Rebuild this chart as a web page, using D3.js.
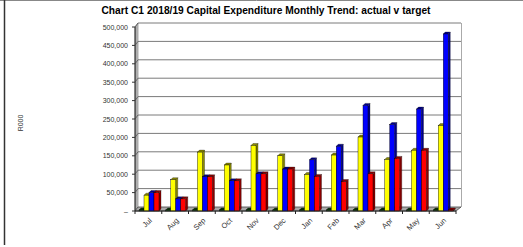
<!DOCTYPE html>
<html lang="en">
<head>
    <meta charset="UTF-8">
    <title>Chart C1 Capital Expenditure</title>
    <script src="https://cdn.jsdelivr.net/npm/d3@7/dist/d3.min.js"></script>
    <style>
        body { margin: 0; background: #fff; }
        text { font-family: Arial, "Liberation Sans", sans-serif; }
    </style>
</head>
<body>
<script type="application/javascript">
    const months = ['Jul', 'Aug', 'Sep', 'Oct', 'Nov', 'Dec', 'Jan', 'Feb', 'Mar', 'Apr', 'May', 'Jun'];
    const seriesNames = ['other', 'target', 'actual', 'spent'];
    const otherValues = [0, 0, 0, 0, 0, 0, 0, 0, 0, 0, 0, 0];
    const yellowValues = [43000, 85000, 160000, 125000, 178000, 150000, 99000, 152000, 201000, 140000, 165000, 232000];
    const blueValues = [50000, 33000, 93000, 82000, 101000, 114000, 139000, 176000, 287000, 235000, 277000, 481000];
    const redValues = [50000, 33000, 93000, 82000, 101000, 114000, 94000, 80000, 101000, 143000, 165000, 0];
    const yTicks = [0, 50000, 100000, 150000, 200000, 250000, 300000, 350000, 400000, 450000, 500000];
    const colours = ['#1f6b1f', '#ffff00', '#0000ff', '#ff0000'];
    const sides = ['#0d3d0d', '#8c8c00', '#00008c', '#8c0000'];

    const w = 523, h = 247;
    const dx = 3, dy = -4;          // depth of the back wall
    const bdx = 2, bdy = -2;        // depth of each bar

    const svg = d3.select('body').append('svg')
        .attr('width', w)
        .attr('height', h);

    // frame
    svg.append('line').attr('x1', 0).attr('x2', w).attr('y1', 0.5).attr('y2', 0.5)
        .attr('stroke', '#888').attr('stroke-width', 1);
    svg.append('line').attr('x1', 4.5).attr('x2', 4.5).attr('y1', 0).attr('y2', 245)
        .attr('stroke', '#333').attr('stroke-width', 1.5);

    svg.append('text')
        .attr('x', 266).attr('y', 14)
        .attr('text-anchor', 'middle')
        .attr('font-size', '10px')
        .attr('font-weight', 'bold')
        .attr('textLength', 329)
        .attr('lengthAdjust', 'spacingAndGlyphs')
        .text('Chart C1 2018/19 Capital Expenditure Monthly Trend: actual v target');

    const xScale = d3.scaleBand().domain(months).range([135, 456]);
    const yScale = d3.scaleLinear().domain([0, 500000]).range([211, 27]);
    const sScale = d3.scaleBand().domain(seriesNames).range([4, 24]);

    const x0 = xScale.range()[0], x1 = xScale.range()[1];
    const yb = yScale(0), yt = yScale(500000);

    // left wall
    const grad = svg.append('defs').append('linearGradient').attr('id', 'wall');
    grad.append('stop').attr('offset', '0%').attr('stop-color', '#888');
    grad.append('stop').attr('offset', '100%').attr('stop-color', '#d4d4d4');
    svg.append('polygon')
        .attr('points', [[x0, yb], [x0, yt], [x0 + dx, yt + dy], [x0 + dx, yb + dy]].join(' '))
        .attr('fill', 'url(#wall)').attr('stroke', '#555').attr('stroke-width', 0.5);

    // floor
    svg.append('polygon')
        .attr('points', [[x0, yb], [x1, yb], [x1 + dx + 2, yb + dy], [x0 + dx, yb + dy]].join(' '))
        .attr('fill', '#aaa').attr('stroke', '#444').attr('stroke-width', 0.8);

    // gridlines on back wall
    svg.selectAll('.grid')
        .data(yTicks.slice(1))
        .enter().append('line')
        .attr('x1', x0 + dx).attr('x2', x1 + dx + 2)
        .attr('y1', d => yScale(d) + dy).attr('y2', d => yScale(d) + dy)
        .attr('stroke', '#7a7a7a').attr('stroke-width', 1);
    svg.selectAll('.gridSide')
        .data(yTicks.slice(1))
        .enter().append('line')
        .attr('x1', x0).attr('x2', x0 + dx)
        .attr('y1', d => yScale(d)).attr('y2', d => yScale(d) + dy)
        .attr('stroke', '#555').attr('stroke-width', 0.8);
    svg.append('line')
        .attr('x1', x1 + dx + 2.5).attr('x2', x1 + dx + 2.5)
        .attr('y1', yt + dy).attr('y2', yb + dy)
        .attr('stroke', '#aaa').attr('stroke-width', 1);

    // y axis
    svg.append('line').attr('x1', x0).attr('x2', x0).attr('y1', yt).attr('y2', yb)
        .attr('stroke', '#333').attr('stroke-width', 1);
    svg.selectAll('.ytick')
        .data(yTicks)
        .enter().append('line')
        .attr('x1', x0 - 3).attr('x2', x0)
        .attr('y1', d => yScale(d)).attr('y2', d => yScale(d))
        .attr('stroke', '#333');
    svg.selectAll('.ylab')
        .data(yTicks)
        .enter().append('text')
        .attr('x', x0 - 7)
        .attr('y', d => yScale(d) + 2.5)
        .attr('text-anchor', 'end')
        .attr('font-size', '7px')
        .attr('fill', '#333')
        .text(d => d === 0 ? '–' : d3.format(',')(d));

    svg.append('text')
        .attr('transform', 'translate(23,123) rotate(-90)')
        .attr('text-anchor', 'middle')
        .attr('font-size', '7px')
        .attr('fill', '#333')
        .text('R000');

    // bars
    const table = months.map((m, i) => ({
        month: m,
        values: [otherValues[i], yellowValues[i], blueValues[i], redValues[i]]
    }));

    const groups = svg.selectAll('.month')
        .data(table)
        .enter().append('g')
        .attr('transform', d => 'translate(' + xScale(d.month) + ',0)');

    const bars = groups.selectAll('g')
        .data(d => d.values.map((v, j) => ({ v: v, j: j })))
        .enter().append('g');

    const bw = sScale.bandwidth();
    bars.each(function (d) {
        const g = d3.select(this);
        const x = sScale(seriesNames[d.j]);
        const top = Math.min(yScale(d.v), yb - 1);
        // side
        g.append('polygon')
            .attr('points', [[x + bw, yb], [x + bw, top], [x + bw + bdx, top + bdy], [x + bw + bdx, yb + bdy]].join(' '))
            .attr('fill', sides[d.j]).attr('stroke', '#000').attr('stroke-width', 0.3);
        // top
        g.append('polygon')
            .attr('points', [[x, top], [x + bw, top], [x + bw + bdx, top + bdy], [x + bdx, top + bdy]].join(' '))
            .attr('fill', sides[d.j]).attr('stroke', '#000').attr('stroke-width', 0.3);
        // front
        g.append('rect')
            .attr('x', x).attr('y', top)
            .attr('width', bw).attr('height', yb - top)
            .attr('fill', colours[d.j]).attr('stroke', '#000').attr('stroke-width', 0.4);
    });

    // x axis ticks and labels
    svg.append('line').attr('x1', x0).attr('x2', x1).attr('y1', yb).attr('y2', yb)
        .attr('stroke', '#222').attr('stroke-width', 1);
    svg.selectAll('.xtick')
        .data(months.concat(['end']))
        .enter().append('line')
        .attr('x1', (d, i) => x0 + i * xScale.step())
        .attr('x2', (d, i) => x0 + i * xScale.step())
        .attr('y1', yb).attr('y2', yb + 3)
        .attr('stroke', '#222');
    svg.selectAll('.xlab')
        .data(months)
        .enter().append('text')
        .attr('transform', d => 'translate(' + (xScale(d) + xScale.bandwidth() / 2 + 4) + ',' + (yb + 10) + ') rotate(-45)')
        .attr('text-anchor', 'end')
        .attr('font-size', '7.5px')
        .attr('fill', '#333')
        .text(d => d);
</script>
</body>
</html>
